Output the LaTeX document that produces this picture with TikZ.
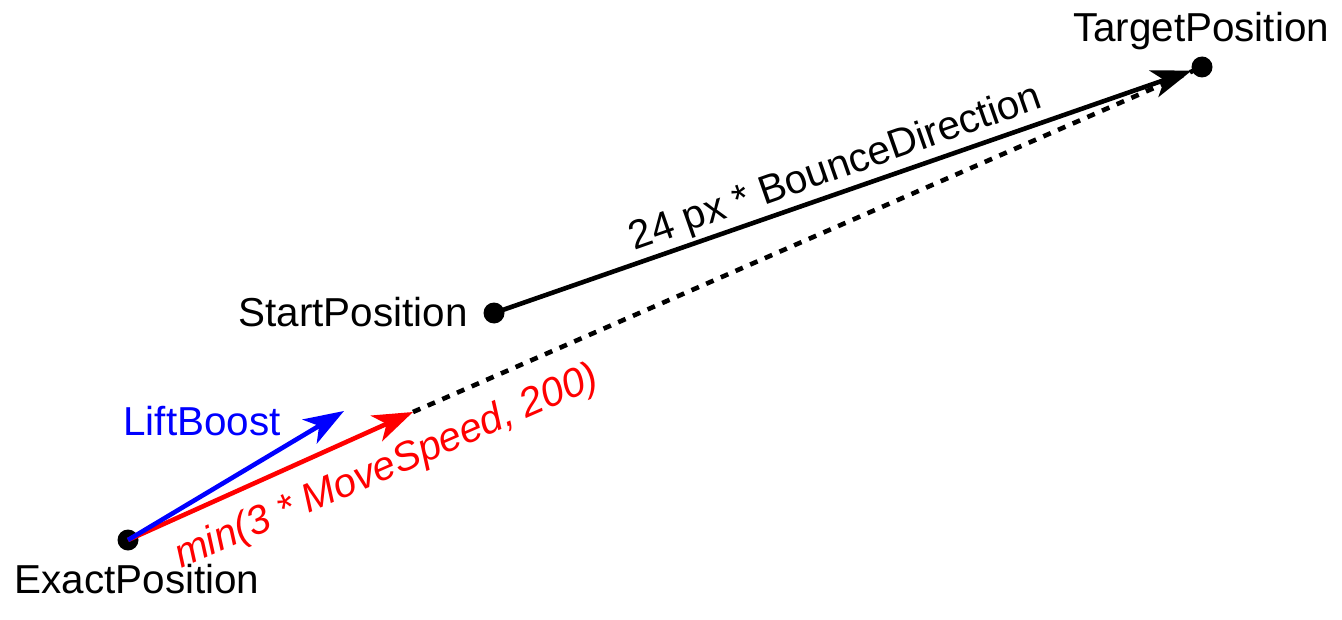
\documentclass[tikz,border=0pt]{standalone}
\usepackage{fontspec}
\setmainfont{Liberation Sans}
\usetikzlibrary{arrows.meta}
\begin{document}
\begin{tikzpicture}[x=0.5pt,y=-0.5pt,
  pt/.style={circle,fill=black,inner sep=0pt,minimum size=10.5pt},
  lbl/.style={font=\fontsize{20.2}{24}\selectfont,inner sep=0pt},
  vec/.style={line width=2.3pt,-{Stealth[length=20pt,width=14pt,inset=5.5pt]}},
  dotted line/.style={line width=2.3pt,dash pattern=on 4pt off 4pt}]
\useasboundingbox (0,0) rectangle (1342,620);
\node[pt] (exact) at (128,540) {};
\node[pt] (start) at (494,313) {};
\node[pt] (target) at (1202,67) {};
\coordinate (redend) at (413,412);
\coordinate (blueend) at (344,411);
\node[lbl,anchor=base] (exactlbl) at (137,593) {ExactPosition};
\node[lbl,anchor=base east] (startlbl) at (468,326) {StartPosition};
\node[lbl,anchor=base] (targetlbl) at (1201,42) {TargetPosition};
\node[lbl,anchor=base,text=blue] (liftlbl) at (202,435) {LiftBoost};
\draw[dotted line] (redend) -- (target.center);
\draw[vec] (start.center) -- (target);
\draw[vec,red] (exact.center) -- (redend);
\draw[vec,blue] (exact.center) -- (blueend);
\node[lbl,text=red,rotate=23.5,font=\fontsize{20.2}{24}\selectfont\itshape] (redlbl) at (387,468) {min(3 * MoveSpeed, 200)};
\node[lbl,rotate=19.3] (blacklbl) at (836,169) {24 px * BounceDirection};
\end{tikzpicture}
\end{document}
